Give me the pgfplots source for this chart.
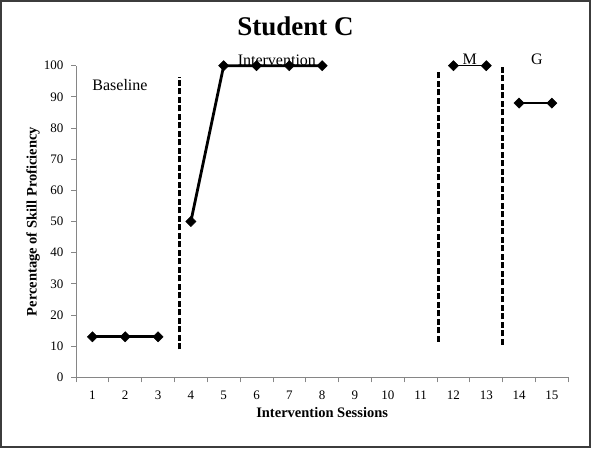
\documentclass[border=0pt]{standalone}
\usepackage{pgfplots}
\pgfplotsset{compat=1.18}
\usepackage{fontspec}
\setmainfont{Liberation Serif}
\begin{document}
\begin{tikzpicture}
\definecolor{axgray}{RGB}{134,134,134}
\definecolor{framegray}{RGB}{60,60,60}
\begin{axis}[
  at={(76pt,70.7pt)}, anchor=south west,
  scale only axis, width=492.3pt, height=311.6pt,
  xmin=0.5, xmax=15.5, ymin=0, ymax=100,
  axis x line*=bottom, axis y line*=left,
  axis line style={axgray, line width=0.8pt},
  xtick={0.5,1.5,...,15.5},
  x tick label as interval,
  xticklabels={1,2,3,4,5,6,7,8,9,10,11,12,13,14,15},
  ytick={0,10,...,100},
  tick align=outside, major tick length=5pt,
  tick style={axgray, line width=0.8pt},
  /pgf/number format/assume math mode=true,
  tick label style={font=\fontsize{13}{15}\selectfont},
  xticklabel style={yshift=-5pt},
  yticklabel style={xshift=-4pt},
  xlabel={Intervention Sessions},
  ylabel={Percentage of Skill Proficiency},
  label style={font=\fontsize{14.5}{16}\selectfont\bfseries},
  xlabel style={at={(axis description cs:0.5,-0.112)}, anchor=center},
  ylabel style={at={(axis description cs:-0.0873,0.5)}, anchor=center, rotate=0},
  title={Student C},
  title style={font=\fontsize{27}{29}\selectfont\bfseries, at={(axis description cs:0.446,1.106)}, anchor=center},
  clip=false,
]
% data series
\addplot[black, line width=2.8pt, mark=square*, mark size=3.6pt, mark options={rotate=45, line width=0.5pt}] coordinates {(1,13)(2,13)(3,13)};
\addplot[black, line width=2.8pt, mark=square*, mark size=3.6pt, mark options={rotate=45, line width=0.5pt}] coordinates {(4,50)(5,100)(6,100)(7,100)(8,100)};
\addplot[black, line width=1.2pt, mark=square*, mark size=3.6pt, mark options={rotate=45, line width=0.5pt}] coordinates {(12,100)(13,100)};
\addplot[black, line width=2.8pt, mark=square*, mark size=3.6pt, mark options={rotate=45, line width=0.5pt}] coordinates {(14,88)(15,88)};
% phase change lines
\addplot[black, line width=3pt, dash pattern=on 6pt off 2.5pt] coordinates {(3.65,9)(3.65,96.5)};
\addplot[black, line width=3pt, dash pattern=on 6pt off 2.5pt] coordinates {(11.56,11.4)(11.56,98)};
\addplot[black, line width=3pt, dash pattern=on 6pt off 2.5pt] coordinates {(13.5,10.4)(13.5,100)};
% phase labels
\node[font=\fontsize{16}{18}\selectfont] at (axis cs:1.84,93.8) {Baseline};
\node[font=\fontsize{16}{18}\selectfont] at (axis cs:6.62,101.6) {Intervention};
\node[font=\fontsize{16}{18}\selectfont] at (axis cs:12.5,102) {M};
\node[font=\fontsize{16}{18}\selectfont] at (axis cs:14.54,102) {G};
\end{axis}
\draw[framegray, line width=1.8pt] (0.9pt,0.9pt) rectangle (590.1pt,447.1pt);
\end{tikzpicture}
\end{document}
